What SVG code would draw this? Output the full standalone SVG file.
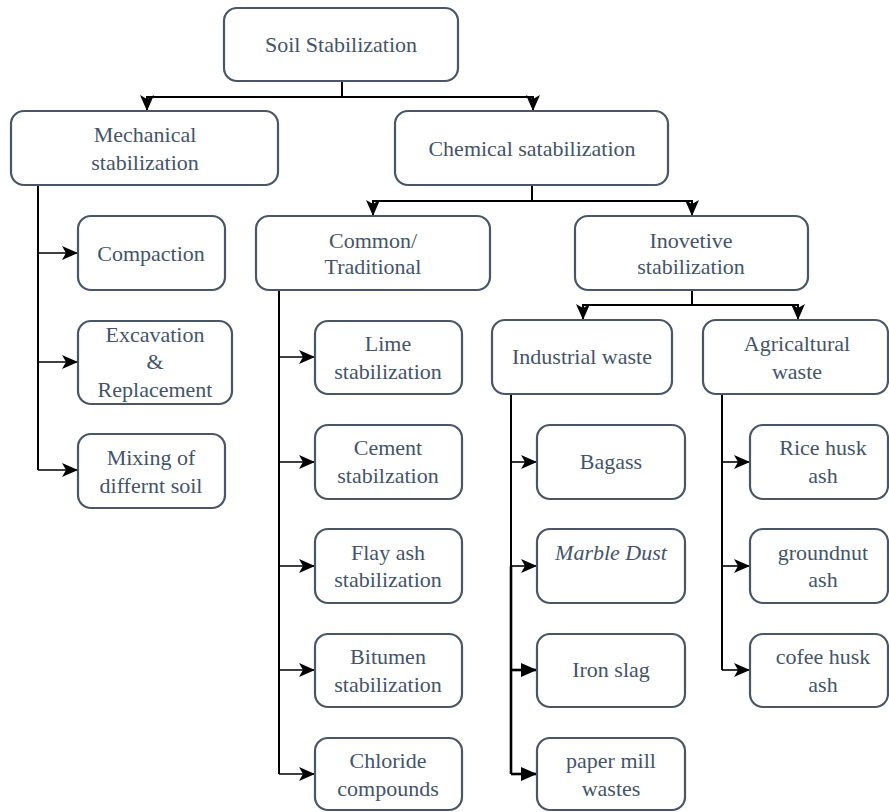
<svg xmlns="http://www.w3.org/2000/svg" width="889" height="812" viewBox="0 0 889 812">
<defs>
<style>
.box{fill:#fff;stroke:#4a5566;stroke-width:2.2}
text{font-family:"Liberation Serif","DejaVu Serif","Times New Roman",serif;font-size:22px;fill:#44546a;text-anchor:middle}
.c{fill:none;stroke:#000;stroke-width:2}
.b{fill:none;stroke:#000;stroke-width:1.6}
.bb{fill:none;stroke:#000;stroke-width:2.6}
</style>
<marker id="a" markerUnits="userSpaceOnUse" markerWidth="18" markerHeight="16" viewBox="0 0 18 16" refX="17" refY="8" orient="auto">
<path d="M1,1 L17,8 L1,15 L5,8 z" fill="#000"/>
</marker>
<marker id="f" markerUnits="userSpaceOnUse" markerWidth="18" markerHeight="16" viewBox="0 0 18 16" refX="17" refY="8" orient="auto">
<path d="M1,1 L17,8 L1,15 z" fill="#000"/>
</marker>
</defs>
<rect width="889" height="812" fill="#fff"/>
<g id="connectors">
<path class="c" d="M342,81 V97 H147 V111" marker-end="url(#a)"/>
<path class="c" d="M342,97 H533 V111" marker-end="url(#a)"/>
<path class="c" d="M38,185 V470"/>
<path class="b" d="M38,253 H78" marker-end="url(#a)"/>
<path class="b" d="M38,362 H78" marker-end="url(#a)"/>
<path class="b" d="M38,470 H78" marker-end="url(#a)"/>
<path class="c" d="M532,185 V201 H373 V216" marker-end="url(#a)"/>
<path class="c" d="M532,201 H692 V216" marker-end="url(#a)"/>
<path class="c" d="M279,290 V774"/>
<path class="b" d="M279,357 H315" marker-end="url(#a)"/>
<path class="b" d="M279,462 H315" marker-end="url(#a)"/>
<path class="b" d="M279,566 H315" marker-end="url(#a)"/>
<path class="b" d="M279,670 H315" marker-end="url(#a)"/>
<path class="b" d="M279,774 H315" marker-end="url(#a)"/>
<path class="c" d="M692,290 V305 H583 V320" marker-end="url(#a)"/>
<path class="c" d="M692,305 H798 V320" marker-end="url(#a)"/>
<path class="c" d="M511,394 V566"/>
<path class="bb" d="M511,566 V774"/>
<path class="b" d="M511,462 H537" marker-end="url(#a)"/>
<path class="b" d="M511,566 H537" marker-end="url(#a)"/>
<path class="bb" d="M511,670 H537" marker-end="url(#f)"/>
<path class="bb" d="M511,774 H537" marker-end="url(#f)"/>
<path class="c" d="M722,394 V670"/>
<path class="b" d="M722,462 H750" marker-end="url(#a)"/>
<path class="b" d="M722,566 H750" marker-end="url(#a)"/>
<path class="b" d="M722,670 H750" marker-end="url(#a)"/>
</g>
<g id="root"><rect class="box" x="224" y="8" width="234" height="73" rx="13"/><text x="341" y="52">Soil Stabilization</text></g>
<g id="mechanical"><rect class="box" x="11" y="111" width="267" height="74" rx="13"/><text x="145" y="142">Mechanical</text><text x="145" y="170">stabilization</text></g>
<g id="chemical"><rect class="box" x="395" y="111" width="273" height="74" rx="13"/><text x="532" y="156">Chemical satabilization</text></g>
<g id="compaction"><rect class="box" x="78" y="216" width="147" height="74" rx="13"/><text x="151" y="261">Compaction</text></g>
<g id="excavation"><rect class="box" x="78" y="321" width="154" height="83" rx="13"/><text x="155" y="342">Excavation</text><text x="155" y="369">&amp;</text><text x="155" y="397">Replacement</text></g>
<g id="mixing"><rect class="box" x="78" y="434" width="147" height="74" rx="13"/><text x="151" y="465">Mixing of</text><text x="151" y="493">differnt soil</text></g>
<g id="common"><rect class="box" x="256" y="216" width="234" height="74" rx="13"/><text x="373" y="248">Common/</text><text x="373" y="274">Traditional</text></g>
<g id="inovetive"><rect class="box" x="575" y="216" width="233" height="74" rx="13"/><text x="691" y="248">Inovetive</text><text x="691" y="274">stabilization</text></g>
<g id="lime"><rect class="box" x="315" y="321" width="147" height="73" rx="13"/><text x="388" y="351">Lime</text><text x="388" y="379">stabilization</text></g>
<g id="cement"><rect class="box" x="315" y="425" width="147" height="74" rx="13"/><text x="388" y="455">Cement</text><text x="388" y="483">stabilzation</text></g>
<g id="flayash"><rect class="box" x="315" y="529" width="147" height="74" rx="13"/><text x="388" y="560">Flay ash</text><text x="388" y="587">stabilization</text></g>
<g id="bitumen"><rect class="box" x="315" y="634" width="147" height="73" rx="13"/><text x="388" y="664">Bitumen</text><text x="388" y="692">stabilization</text></g>
<g id="chloride"><rect class="box" x="315" y="738" width="147" height="72" rx="13"/><text x="388" y="768">Chloride</text><text x="388" y="796">compounds</text></g>
<g id="industrial"><rect class="box" x="492" y="320" width="180" height="74" rx="13"/><text x="582" y="364">Industrial waste</text></g>
<g id="agricultural"><rect class="box" x="703" y="320" width="185" height="74" rx="13"/><text x="797" y="351">Agricaltural</text><text x="797" y="379">waste</text></g>
<g id="bagass"><rect class="box" x="537" y="425" width="148" height="74" rx="13"/><text x="611" y="469">Bagass</text></g>
<g id="marble"><rect class="box" x="537" y="529" width="148" height="74" rx="13"/><text x="611" y="560" font-style="italic">Marble Dust</text></g>
<g id="iron"><rect class="box" x="537" y="634" width="148" height="73" rx="13"/><text x="611" y="677">Iron slag</text></g>
<g id="paper"><rect class="box" x="537" y="738" width="148" height="72" rx="13"/><text x="611" y="768">paper mill</text><text x="611" y="796">wastes</text></g>
<g id="ricehusk"><rect class="box" x="750" y="425" width="138" height="74" rx="13"/><text x="823" y="455">Rice husk</text><text x="823" y="483">ash</text></g>
<g id="groundnut"><rect class="box" x="750" y="529" width="138" height="74" rx="13"/><text x="823" y="560">groundnut</text><text x="823" y="587">ash</text></g>
<g id="cofee"><rect class="box" x="750" y="634" width="138" height="73" rx="13"/><text x="823" y="664">cofee husk</text><text x="823" y="692">ash</text></g>
</svg>
